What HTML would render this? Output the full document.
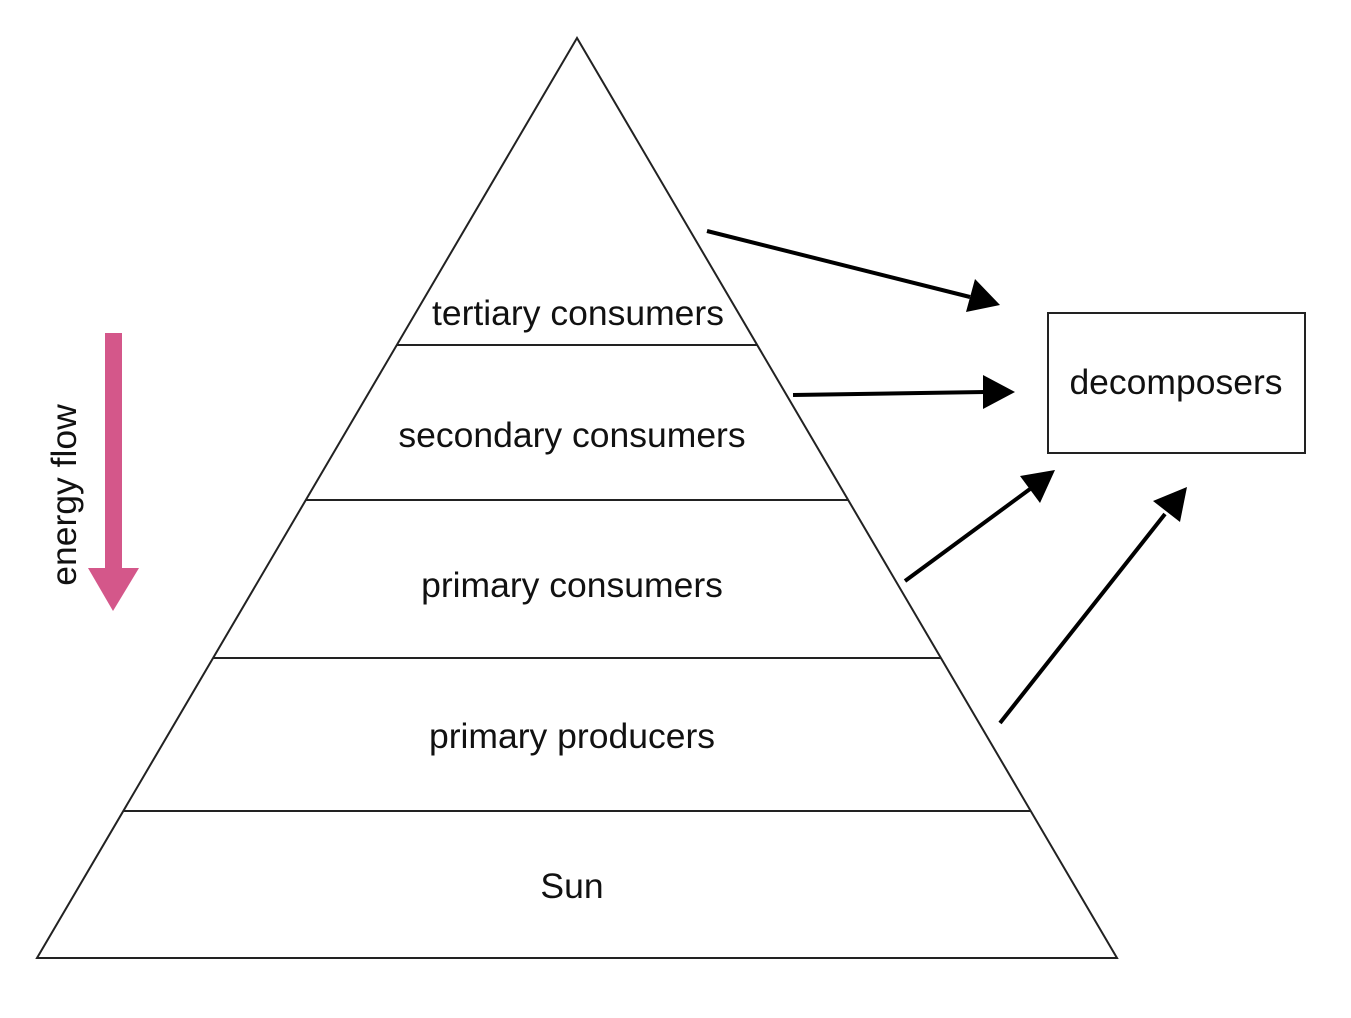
<!DOCTYPE html>
<html><head><meta charset="utf-8"><style>
html,body{margin:0;padding:0;background:#fff;}
svg{display:block;}
text{font-family:"Liberation Sans",Arial,sans-serif;font-size:35.5px;fill:#111;}
</style></head><body>
<svg width="1351" height="1018" viewBox="0 0 1351 1018">
<polygon points="577,38 37,958 1117,958" fill="#fff" stroke="#222" stroke-width="2"/>
<line x1="397" y1="345" x2="757" y2="345" stroke="#222" stroke-width="2"/>
<line x1="306" y1="500" x2="848" y2="500" stroke="#222" stroke-width="2"/>
<line x1="213" y1="658" x2="941" y2="658" stroke="#222" stroke-width="2"/>
<line x1="124" y1="811" x2="1030" y2="811" stroke="#222" stroke-width="2"/>
<text x="578" y="325" text-anchor="middle">tertiary consumers</text>
<text x="572" y="447" text-anchor="middle">secondary consumers</text>
<text x="572" y="597" text-anchor="middle">primary consumers</text>
<text x="572" y="748" text-anchor="middle">primary producers</text>
<text x="572" y="898" text-anchor="middle">Sun</text>
<rect x="1048" y="313" width="257" height="140" fill="#fff" stroke="#222" stroke-width="2"/>
<text x="1176" y="394" text-anchor="middle">decomposers</text>
<g stroke="#000" stroke-width="4">
<line x1="707" y1="231" x2="970" y2="297"/>
<line x1="793" y1="395" x2="985" y2="392"/>
<line x1="905" y1="581" x2="1030" y2="489"/>
<line x1="1000" y1="723" x2="1165" y2="514"/>
</g>
<polygon points="1000,305 966,312 975,279" fill="#000"/>
<polygon points="1015,392 983,409 983,375" fill="#000"/>
<polygon points="1055,470 1040,503 1020,476" fill="#000"/>
<polygon points="1187,487 1180,522 1153,501" fill="#000"/>
<rect x="105" y="333" width="17" height="237" fill="#d4578a"/>
<polygon points="88,568 139,568 113,611" fill="#d4578a"/>
<text x="0" y="0" transform="translate(76,495) rotate(-90)" text-anchor="middle">energy flow</text>
</svg>
</body></html>
